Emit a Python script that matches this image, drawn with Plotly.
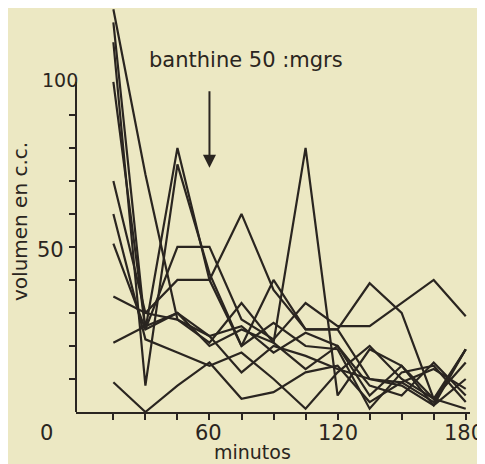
import plotly.graph_objects as go

minutes = [15, 30, 45, 60, 75, 90, 105, 120, 135, 150, 165, 180]

s1 = [122, 72, 28, 21, 33, 21, 13, 20, 5, 14, 2, 19]
s2 = [118, 25, 80, 40, 60, 37, 25, 25, 39, 30, 4, 19]
s3 = [112, 8, 75, 42, 20, 27, 20, 19, 1, 12, 14, 3]
s4 = [100, 25, 50, 50, 28, 22, 33, 26, 26, 33, 40, 29]
s5 = [70, 30, 40, 40, 20, 40, 25, 25, 10, 8, 2, 10]
s6 = [51, 25, 30, 20, 25, 21, 80, 5, 19, 14, 4, 15]
s7 = [35, 30, 28, 23, 26, 18, 24, 20, 8, 5, 15, 5]
s8 = [21, 26, 30, 23, 12, 20, 17, 13, 10, 9, 3, 19]
s9 = [9, 0, 8, 15, 4, 6, 12, 14, 3, 9, 13, 7]
s10 = [60, 22, 18, 14, 18, 10, 1, 12, 20, 10, 4, 1]
series = [s1, s2, s3, s4, s5, s6, s7, s8, s9, s10]

x_ticks = [15, 30, 45, 60, 75, 90, 105, 120, 135, 150, 165, 180]
y_ticks = [10, 20, 30, 40, 50, 60, 70, 80, 90]
x_labels = ["0", "60", "120", "180"]
y_labels = ["100", "50"]

INK = "#2a2520"
BG = "#ECE8C3"
FONT = "DejaVu Sans"

fig = go.Figure()
for s in series:
    fig.add_trace(go.Scatter(x=minutes, y=s, mode="lines",
                             line=dict(color=INK, width=2.2), showlegend=False,
                             hoverinfo="skip"))

# page offset (browser body margin) compensation
OFF = 8
W, H = 485 - OFF, 464 - OFF
L, R = 76 - OFF, 15
T = 0
B = H - (412 - OFF)
PW, PH = W - L - R, H - T - B


def P(px, py):
    px -= OFF
    py -= OFF
    return (px - L) / PW, (H - B - py) / PH


annos = []
def text(s, px, py, size, angle=0):
    x, y = P(px, py)
    annos.append(dict(text=s, x=x, y=y, xref="paper", yref="paper",
                      showarrow=False, xanchor="center", yanchor="middle",
                      textangle=angle, font=dict(family=FONT, size=size, color=INK)))

text(y_labels[0], 60, 80, 19)
text(y_labels[1], 50, 250, 21)
text(x_labels[0], 46, 433, 21)
text(x_labels[1], 208, 433, 21)
text(x_labels[2], 338, 433, 21)
text(x_labels[3], 464, 433, 21)
text("minutos", 252, 452, 19)
text("volumen en c.c.", 20, 222, 20, angle=-90)
text("banthine 50 :mgrs", 246, 60, 21)

annos.append(dict(text="", x=60, y=74, xref="x", yref="y", showarrow=True,
                  ax=0, ay=-78, arrowhead=2, arrowsize=1.3, arrowwidth=2,
                  arrowcolor=INK))

fig.update_layout(
    width=W, height=H,
    margin=dict(l=L, r=R, t=T, b=B, pad=0),
    paper_bgcolor=BG, plot_bgcolor=BG,
    annotations=annos,
    shapes=[dict(type="line", xref="paper", yref="y", x0=0, x1=0, y0=0, y1=100,
                 line=dict(color=INK, width=2))],
    xaxis=dict(range=[-2.5, 182], showgrid=False, zeroline=False, showline=True,
               linecolor=INK, linewidth=2, ticks="outside", tickvals=x_ticks,
               ticklen=6, tickwidth=2, tickcolor=INK, showticklabels=False),
    yaxis=dict(range=[0, 124.8 - OFF / 3.3], showgrid=False, zeroline=False, showline=False,
               ticks="outside", tickvals=y_ticks, ticklen=6, tickwidth=2,
               tickcolor=INK, showticklabels=False),
)

fig.write_html("out.html")
